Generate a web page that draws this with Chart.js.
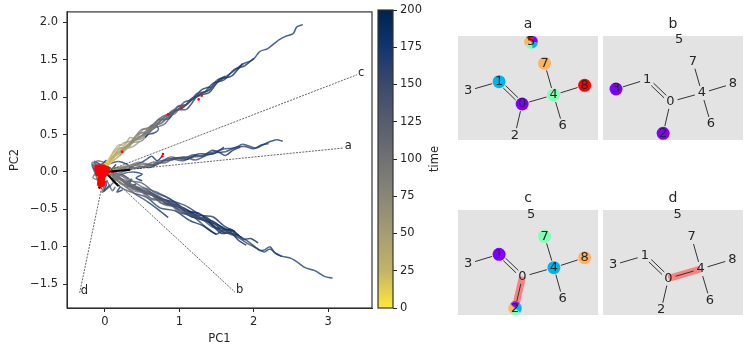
<!DOCTYPE html>
<html><head><meta charset="utf-8">
<script src="https://cdn.jsdelivr.net/npm/chart.js@4"></script>
<style>html,body{margin:0;background:#fff;overflow:hidden}canvas{position:absolute}</style>
</head><body>
<canvas id="main" width="375" height="356" style="left:0;top:0"></canvas>
<canvas id="bar" width="75" height="356" style="left:375px;top:0"></canvas>
<canvas id="ma" width="140" height="124" style="left:458px;top:16px"></canvas>
<canvas id="mb" width="140" height="124" style="left:603px;top:16px"></canvas>
<canvas id="mc" width="140" height="125" style="left:458px;top:190px"></canvas>
<canvas id="md" width="140" height="125" style="left:603px;top:190px"></canvas>
<script>
// ---- axis ticks
const xTicks=[0,1,2,3];
const yTicks=[-1.5,-1,-0.5,0,0.5,1,1.5,2];
const timeTicks=[0,25,50,75,100,125,150,175,200];
// ---- cividis (reversed) colour map stops: time -> colour
const cmapTimes=[0,25,50,75,100,125,150,175,200];
const cmapColors=['#fee838','#c3b369','#a59c74','#8a8678','#707173','#575d6d','#3b496c','#123570','#00224e'];
// ---- trajectories: upper branch
const up1x=[-.03,.07,.20,.34,.51,.70,.85,1.01,1.14,1.28,1.41,1.48,1.59,1.72,1.85,1.99,2.08,2.19,2.33,2.42,2.53,2.58,2.66];
const up1y=[.08,.17,.28,.39,.48,.64,.77,.85,.94,1.04,1.10,1.17,1.25,1.34,1.44,1.50,1.61,1.65,1.76,1.81,1.85,1.94,1.97];
const up1t=[10,30,50,70,90,110,125,140,150,155,160,163,165,167,169,170,171,172,173,174,175,176,177];
const up2x=[-.02,.1,.22,.36,.5,.64,.78,.92,1.06,1.2,1.34,1.46,1.6,1.74,1.88,2.0];
const up2y=[.06,.2,.27,.41,.45,.6,.67,.8,.87,1.0,1.07,1.19,1.23,1.37,1.42,1.52];
const up2t=[20,35,50,70,85,100,115,130,145,160,170,178,184,190,195,200];
const up3x=[-.05,.06,.18,.3,.44,.58,.72,.84,.98,1.1,1.24,1.38,1.5,1.62];
const up3y=[.04,.13,.3,.35,.5,.55,.68,.72,.88,.9,1.05,1.08,1.22,1.28];
const up3t=[15,30,45,60,75,92,105,118,130,145,160,175,190,200];
const up4x=[0,.12,.26,.4,.52,.66,.8,.94,1.06,1.18,1.3,1.42];
const up4y=[.05,.22,.3,.43,.5,.58,.74,.78,.93,.97,1.1,1.14];
const up4t=[25,40,58,75,95,115,130,148,165,178,190,200];
const up5x=[-.02,.1,.2,.32,.46,.6,.72,.86,.98,1.1];
const up5y=[.07,.16,.32,.33,.52,.53,.7,.71,.87,.9];
const up5t=[20,40,55,75,95,120,140,165,185,200];
const up6x=[0,.14,.28,.42,.52,.6,.68,.72,.66,.58,.54];
const up6y=[.06,.24,.33,.44,.5,.58,.62,.57,.52,.5,.46];
const up6t=[30,50,70,90,110,130,150,165,178,190,200];
const up7x=[.02,.12,.24,.36,.48,.6,.74,.86,.96];
const up7y=[.1,.26,.38,.42,.56,.6,.72,.78,.83];
const up7t=[30,45,60,80,100,120,135,150,165];
const up8x=[-.04,.08,.2,.34,.48,.62,.76,.9,1.04,1.16,1.28];
const up8y=[.02,.18,.24,.38,.47,.62,.65,.82,.85,.98,1.02];
const up8t=[10,28,42,62,80,100,118,135,160,180,200];
const up9x=[.05,.2,.35,.5,.65,.8,.95,1.1,1.25,1.4,1.55,1.7,1.85];
const up9y=[.1,.22,.38,.42,.58,.64,.82,.84,1.02,1.06,1.24,1.28,1.45];
const up9t=[30,50,75,95,120,140,155,168,178,185,190,196,200];
const up10x=[.02,.1,.18,.26,.34,.42,.5,.6];
const up10y=[.12,.25,.36,.36,.46,.44,.56,.58];
const up10t=[20,30,40,50,60,70,85,100];
const up11x=[.03,.12,.2,.3,.38,.46];
const up11y=[.08,.16,.22,.31,.34,.4];
const up11t=[15,25,35,50,60,75];
// ---- trajectories: right branch
const rt1x=[.07,.24,.43,.60,.74,.87,.97,1.14,1.28,1.38,1.51,1.61,1.75,1.85,1.98,2.04,2.18,2.31,2.39];
const rt1y=[.01,.04,.05,.09,.12,.17,.19,.20,.21,.25,.28,.31,.32,.37,.33,.32,.39,.43,.41];
const rt1t=[60,85,105,120,130,138,145,150,155,160,163,165,167,169,171,172,174,176,178];
const rt2x=[.05,.22,.4,.58,.74,.9,1.06,1.22,1.36,1.5,1.62,1.76,1.88,2.0,2.1,2.2];
const rt2y=[.02,.07,.09,.07,.15,.16,.2,.16,.22,.26,.27,.33,.34,.31,.36,.38];
const rt2t=[55,80,100,115,130,140,150,160,165,168,170,172,174,176,178,180];
const rt3x=[.04,.2,.38,.56,.72,.88,1.04,1.18,1.32,1.44,1.54,1.62,1.72,1.82];
const rt3y=[0,.03,.1,.1,.11,.2,.17,.23,.21,.29,.26,.22,.29,.33];
const rt3t=[70,85,100,115,128,138,148,158,165,175,182,188,194,200];
const rt4x=[.03,.15,.3,.42,.5,.56,.63,.7,.77];
const rt4y=[.02,.06,.04,.1,.13,.17,.21,.15,.21];
const rt4t=[80,110,140,155,165,175,185,192,200];
const rt5x=[.05,.18,.32,.48,.64,.8,.96,1.1,1.24];
const rt5y=[-.01,.05,.07,.05,.13,.12,.19,.17,.23];
const rt5t=[65,85,105,120,135,150,165,185,200];
const rt6x=[.02,.15,.3,.45,.6,.72];
const rt6y=[0,-.02,.02,.07,.06,.11];
const rt6t=[80,110,135,155,180,200];
const rt7x=[.05,.25,.45,.65,.85,1.05,1.25,1.45,1.6];
const rt7y=[.03,.05,.13,.09,.18,.15,.24,.24,.33];
const rt7t=[75,95,115,130,145,160,175,190,200];
// ---- trajectories: lower branch
const dn1x=[.11,.24,.43,.65,.91,1.18,1.41,1.61,1.75,1.88,1.99,2.08,2.15,2.22,2.28,2.35,2.51,2.59,2.69,2.82,2.96,3.06];
const dn1y=[-.03,-.12,-.21,-.32,-.45,-.59,-.65,-.78,-.84,-.90,-.98,-1.05,-1.04,-1.00,-1.08,-1.12,-1.16,-1.21,-1.28,-1.32,-1.40,-1.42];
const dn1t=[90,105,120,130,138,145,150,155,158,160,162,164,166,168,170,171,172,173,174,175,176,177];
const dn2x=[.08,.22,.4,.6,.82,1.02,1.22,1.42,1.6,1.78,1.94,2.04,2.14,2.22,2.3,2.38];
const dn2y=[-.02,-.16,-.18,-.36,-.39,-.55,-.57,-.72,-.8,-.87,-.97,-1.02,-1.07,-1.03,-1.09,-1.13];
const dn2t=[85,100,115,128,140,150,155,160,163,165,167,169,171,172,174,176];
const dn3x=[.06,.2,.36,.56,.76,.96,1.16,1.36,1.54,1.7,1.86,1.96,2.06];
const dn3y=[-.03,-.09,-.22,-.25,-.42,-.44,-.6,-.62,-.78,-.77,-.9,-.89,-.95];
const dn3t=[90,110,130,145,155,165,170,175,180,185,190,195,200];
const dn4x=[.1,.26,.44,.62,.82,1.02,1.2,1.4,1.56,1.7,1.8,1.9];
const dn4y=[-.06,-.17,-.2,-.35,-.38,-.53,-.61,-.68,-.82,-.82,-.92,-.98];
const dn4t=[100,120,135,150,160,170,178,184,188,192,196,200];
const dn5x=[.05,.2,.4,.62,.84,1.06,1.3,1.4,1.5,1.56,1.62];
const dn5y=[-.04,-.1,-.24,-.3,-.43,-.5,-.69,-.78,-.83,-.8,-.82];
const dn5t=[80,100,120,135,148,160,172,180,188,194,200];
const dn6x=[.1,.24,.4,.56,.7,.85];
const dn6y=[-.08,-.17,-.29,-.39,-.49,-.61];
const dn6t=[100,125,150,170,188,200];
const dn7x=[.12,.3,.5,.7,.9,1.1,1.3,1.45,1.6,1.75];
const dn7y=[-.02,-.08,-.2,-.27,-.38,-.46,-.58,-.6,-.72,-.8];
const dn7t=[90,110,130,150,162,172,180,187,194,200];
const dn8x=[.08,.2,.34,.5,.66,.86,1.06,1.26];
const dn8y=[-.01,-.04,-.12,-.15,-.27,-.35,-.5,-.56];
const dn8t=[80,100,120,140,155,170,185,200];
const dn9x=[.06,.2,.38,.56,.74,.94,1.14,1.32,1.5];
const dn9y=[-.05,-.2,-.28,-.34,-.48,-.52,-.65,-.72,-.84];
const dn9t=[100,125,145,160,170,178,186,194,200];
const dn10x=[.1,.3,.5,.7,.9,1.1,1.3,1.5,1.7];
const dn10y=[-.05,-.14,-.27,-.31,-.43,-.5,-.63,-.7,-.8];
const dn10t=[90,110,125,138,150,165,178,190,200];
const dn11x=[.08,.25,.45,.65,.85,1.05,1.25,1.45,1.65,1.8];
const dn11y=[-.04,-.13,-.24,-.29,-.44,-.48,-.62,-.66,-.8,-.85];
const dn11t=[100,125,145,160,170,178,185,190,196,200];
const dn12x=[.15,.35,.55,.75,.95,1.15,1.35,1.55];
const dn12y=[-.03,-.19,-.23,-.36,-.41,-.56,-.6,-.76];
const dn12t=[110,135,155,170,180,188,195,200];
const dn13x=[.1,.28,.48,.68,.88,1.08,1.28,1.48,1.68,1.84];
const dn13y=[-.07,-.11,-.26,-.33,-.4,-.52,-.56,-.74,-.78,-.88];
const dn13t=[95,120,140,155,168,176,184,190,196,200];
const dn14x=[.2,.4,.6,.8,1.0,1.2,1.4];
const dn14y=[-.15,-.26,-.28,-.44,-.46,-.6,-.64];
const dn14t=[85,100,115,125,135,145,150];
// ---- trajectories: around the origin
const cn1x=[0,-.1,-.17,-.16,-.08,0,.08,.15];
const cn1y=[.02,.08,.13,.05,-.02,.1,.04,.1];
const cn1t=[100,120,135,150,165,178,190,200];
const cn2x=[.02,-.08,-.16,-.13,-.06,.02,.1,.14];
const cn2y=[-.03,-.1,-.08,-.03,-.2,-.12,-.25,-.2];
const cn2t=[90,100,110,118,125,135,145,150];
const cn3x=[.05,.15,.25,.38,.5,.42,.5];
const cn3y=[-.02,-.07,-.02,0,-.03,-.08,-.12];
const cn3t=[110,135,155,172,185,195,200];
const cn4x=[-.04,-.02,.03,-.04,.06,.12,.2,.16,.24];
const cn4y=[-.05,-.18,-.12,-.27,-.2,-.14,-.2,-.27,-.24];
const cn4t=[95,110,120,130,145,160,172,185,200];
const cn5x=[-.05,-.12,-.1,-.02,.06,.18,.3,.34];
const cn5y=[.06,.12,.15,.13,.11,.14,.1,.06];
const cn5t=[90,110,125,138,152,170,190,200];
const cn6x=[0,.06,.1,.16,.1,.22,.32];
const cn6y=[0,.06,.03,.01,-.05,-.03,-.09];
const cn6t=[100,120,138,152,170,185,200];
const cn7x=[-.02,-.12,-.16,-.1,-.14,-.05,.02];
const cn7y=[-.02,-.04,.1,.02,.14,.1,.16];
const cn7t=[110,135,150,165,180,190,200];
const cn8x=[0,-.03,-.1,-.06,.02,-.02,.06];
const cn8y=[-.05,-.12,-.18,-.1,-.16,-.26,-.18];
const cn8t=[100,122,140,160,175,190,200];
const cn9x=[.05,.14,.1,.2,.28,.36,.3,.42];
const cn9y=[-.05,-.02,-.12,-.08,-.14,-.1,-.2,-.16];
const cn9t=[115,130,150,165,175,185,195,200];
// ---- annotations
const labelNames=['a','b','c','d'];
const labelX=[3.21,1.75,3.39,-.34];
const labelY=[.32,-1.61,1.30,-1.62];
const arrowX=[.34,.18,.02,-.08];
const arrowY=[.03,-.19,.01,-.22];
const blobX=[-.09,-.03,.01,-.08,-.03,-.05,-.05,-.07,.0];
const blobY=[.05,.05,.03,-.01,-.03,-.09,-.15,.01,.0];
const strayX=[.23,.78,.77,.85,1.03,1.30,1.26,-.07,.11];
const strayY=[.27,.24,.21,.77,.86,1.02,.97,-.21,0];
// ---- molecule panels
const atomNames=['0','1','2','3','4','5','6','7','8'];
const bondFrom=[0,0,0,1,4,4,4];
const bondTo=[1,2,4,3,6,7,8];
const P='#8000ff',B='#00b5eb',G='#80ffb4',O='#ffb360',R='#ff0000';
const molAX=[192,123,170,30,286,219,313,259,379], molAY=[204,137,298,164,177,18,269,82,148];
const molBX=[202,132,180,39,296,228,323,269,389], molBY=[197,130,292,159,171,12,264,77,143];
const molCX=[193,123,171,30,287,219,313,259,379], molCY=[200,133,295,161,173,15,266,79,143];
const molDX=[196,125,174,30,292,223,320,265,387], molDY=[205,137,300,165,177,15,271,81,148];
const molAColors=[P,B,null,null,G,[R,P,B,G,O],null,O,R];
const molBColors=[null,null,P,P,null,null,null,null,null];
const molCColors=[null,P,[P,B,G,O],null,B,null,null,G,O];
const molDColors=[null,null,null,null,null,null,null,null,null];

const FONT='"DejaVu Sans"';
const INK='#262626';
Chart.defaults.font.family=FONT;
Chart.defaults.animation=false;

function hex(c){return [1,3,5].map(i=>parseInt(c.substr(i,2),16));}
function cmap(t){
  let i=Math.min(Math.floor(t/25),cmapTimes.length-2);
  const f=(t-cmapTimes[i])/(cmapTimes[i+1]-cmapTimes[i]);
  const a=hex(cmapColors[i]),b=hex(cmapColors[i+1]);
  const m=a.map((v,k)=>Math.round(v+(b[k]-v)*f));
  return `rgba(${m[0]},${m[1]},${m[2]},0.78)`;
}
function pts(xs,ys){return xs.map((x,i)=>({x,y:ys[i]}));}
function trajDataset(xs,ys,ts){
  return {data:pts(xs,ys),showLine:true,pointRadius:0,borderWidth:1.5,tension:.3,fill:false,
    borderColor:cmap(ts[ts.length-1]),
    segment:{borderColor:c=>cmap(ts[c.p0DataIndex])}};
}
const trajectories=[
 [dn1x,dn1y,dn1t],[up1x,up1y,up1t],[rt1x,rt1y,rt1t],
 [dn14x,dn14y,dn14t],[up10x,up10y,up10t],[up11x,up11y,up11t],
 [up2x,up2y,up2t],[up3x,up3y,up3t],[up4x,up4y,up4t],[up5x,up5y,up5t],[up6x,up6y,up6t],[up7x,up7y,up7t],[up8x,up8y,up8t],[up9x,up9y,up9t],
 [rt2x,rt2y,rt2t],[rt3x,rt3y,rt3t],[rt4x,rt4y,rt4t],[rt5x,rt5y,rt5t],[rt6x,rt6y,rt6t],[rt7x,rt7y,rt7t],
 [dn2x,dn2y,dn2t],[dn3x,dn3y,dn3t],[dn4x,dn4y,dn4t],[dn5x,dn5y,dn5t],[dn6x,dn6y,dn6t],[dn7x,dn7y,dn7t],[dn8x,dn8y,dn8t],[dn9x,dn9y,dn9t],[dn10x,dn10y,dn10t],[dn11x,dn11y,dn11t],[dn12x,dn12y,dn12t],[dn13x,dn13y,dn13t],
 [cn1x,cn1y,cn1t],[cn2x,cn2y,cn2t],[cn3x,cn3y,cn3t],[cn4x,cn4y,cn4t],[cn5x,cn5y,cn5t],[cn6x,cn6y,cn6t],[cn7x,cn7y,cn7t],[cn8x,cn8y,cn8t],[cn9x,cn9y,cn9t]
];
const frame={id:'frame',afterDraw(ch){
  const a=ch.chartArea,c=ch.ctx;c.save();c.strokeStyle='#333';c.lineWidth=1.2;
  c.strokeRect(a.left,a.top,a.width,a.height);c.restore();}};
const fmt=v=>{const s=Math.abs(v).toFixed(1);return (v<0?'\u2212':'')+s;};
const setTicks=arr=>s=>{s.ticks=arr.map(v=>({value:v}));};

// ---- main PCA chart
const dsMain=[];
dsMain.push({data:pts(blobX,blobY),pointRadius:4,pointBackgroundColor:'#ff0000',pointBorderWidth:0,showLine:false});
arrowX.forEach((x,i)=>dsMain.push({data:[{x:0,y:0},{x,y:arrowY[i]}],showLine:true,borderColor:'#000',borderWidth:2,pointRadius:0}));
dsMain.push({data:pts(strayX,strayY),pointRadius:1.3,pointBackgroundColor:'#ff0000',pointBorderWidth:0,showLine:false});
labelX.forEach((x,i)=>dsMain.push({data:[{x:0,y:0},{x,y:labelY[i]}],showLine:true,borderColor:'#222',borderWidth:.7,borderDash:[2,1.2],pointRadius:0}));
trajectories.forEach(t=>dsMain.push(trajDataset(t[0],t[1],t[2])));
new Chart(document.getElementById('main'),{type:'scatter',data:{datasets:dsMain},
 options:{responsive:false,layout:{autoPadding:false,padding:{top:10,right:3}},
  plugins:{legend:{display:false},tooltip:{enabled:false}},
  scales:{
   x:{type:'linear',min:-.51,max:3.59,afterBuildTicks:setTicks(xTicks),afterFit:s=>{s.height=48;},
      grid:{drawOnChartArea:false,tickLength:4,tickColor:INK},border:{color:INK},
      ticks:{color:INK,font:{size:11.5},padding:3,maxRotation:0,callback:v=>String(v)},
      title:{display:true,text:'PC1',color:INK,font:{size:11.5},padding:{top:0,bottom:10}}},
   y:{type:'linear',min:-1.82,max:2.14,afterBuildTicks:setTicks(yTicks),afterFit:s=>{s.width=67;},
      grid:{drawOnChartArea:false,tickLength:4,tickColor:INK},border:{color:INK},
      ticks:{color:INK,font:{size:11.5},padding:5,callback:fmt},
      title:{display:true,text:'PC2',color:INK,font:{size:11.5},padding:{top:8,bottom:0}}}
  }},
 plugins:[frame,{id:'labels',afterDatasetsDraw(ch){
   const c=ch.ctx;c.save();c.fillStyle=INK;c.font='11.5px '+FONT;c.textAlign='left';c.textBaseline='alphabetic';
   labelNames.forEach((n,i)=>c.fillText(n,ch.scales.x.getPixelForValue(labelX[i])+1,ch.scales.y.getPixelForValue(labelY[i])+1));
   c.restore();}}]
});

// ---- colour bar
new Chart(document.getElementById('bar'),{type:'bar',
 data:{labels:['time'],datasets:[{data:[[0,200]],barPercentage:1,categoryPercentage:1,borderWidth:0,
   backgroundColor(ctx){
     const ch=ctx.chart,s=ch.scales.y;
     if(!s||!ch.chartArea) return cmapColors[4];
     const g=ch.ctx.createLinearGradient(0,s.getPixelForValue(0),0,s.getPixelForValue(200));
     cmapTimes.forEach((t,i)=>g.addColorStop(t/200,cmapColors[i]));
     return g;}}]},
 options:{responsive:false,layout:{autoPadding:false,padding:{top:10,bottom:48,left:3}},
  plugins:{legend:{display:false},tooltip:{enabled:false}},
  scales:{x:{display:false},
   y:{position:'right',min:0,max:200,afterBuildTicks:setTicks(timeTicks),afterFit:s=>{s.width=57;},
      grid:{drawOnChartArea:false,tickLength:4,tickColor:INK},border:{display:false},
      ticks:{color:INK,font:{size:11.5},padding:3}}}},
 plugins:[frame,{id:'timeTitle',afterDraw(ch){
   const c=ch.ctx;c.save();c.translate(60,159);c.rotate(-Math.PI/2);c.fillStyle=INK;c.font='11.5px '+FONT;
   c.textAlign='center';c.textBaseline='middle';c.fillText('time',0,0);c.restore();}}]
});

// ---- molecule panels
function pieIcon(cols){
  const cv=document.createElement('canvas');cv.width=cv.height=14;const c=cv.getContext('2d');
  const n=cols.length;
  cols.forEach((col,i)=>{const a0=-2.4+i*2*Math.PI/n,a1=a0+2*Math.PI/n;
    c.beginPath();c.moveTo(7,7);c.arc(7,7,6.7,a0,a1);c.closePath();c.fillStyle=col;c.fill();});
  return cv;
}
function molecule(id,title,xs,ys,cols,hi,h){
  const seq=[];
  bondFrom.forEach((f,i)=>{
    const t=bondTo[i],dx=xs[t]-xs[f],dy=ys[t]-ys[f],L=Math.hypot(dx,dy),ux=dx/L,uy=dy/L,tr=22;
    const a={x:xs[f]+ux*tr,y:ys[f]+uy*tr},b={x:xs[t]-ux*tr,y:ys[t]-uy*tr};
    if(f===0&&t===1){
      const ox=-uy*5,oy=ux*5;
      seq.push({x:a.x+ox,y:a.y+oy},{x:b.x+ox,y:b.y+oy},{x:NaN,y:NaN},{x:a.x-ox,y:a.y-oy},{x:b.x-ox,y:b.y-oy},{x:NaN,y:NaN});
    } else seq.push(a,b,{x:NaN,y:NaN});
  });
  const idx=cols.map((c,i)=>c?i:-1).filter(i=>i>=0);
  const datasets=[{data:seq,showLine:true,spanGaps:false,borderColor:'#333',borderWidth:1,pointRadius:0}];
  if(idx.length) datasets.push({data:idx.map(i=>({x:xs[i],y:ys[i]})),showLine:false,pointRadius:6.5,pointBorderWidth:0,
     pointBackgroundColor:idx.map(i=>Array.isArray(cols[i])?'#888':cols[i]),
     pointStyle:idx.map(i=>Array.isArray(cols[i])?pieIcon(cols[i]):'circle')});
  if(hi) datasets.push({data:[{x:xs[hi[0]],y:ys[hi[0]]},{x:xs[hi[1]],y:ys[hi[1]]}],showLine:true,
     borderColor:'rgba(255,110,110,.85)',borderWidth:7,pointRadius:0,borderCapStyle:'butt'});
  new Chart(document.getElementById(id),{type:'scatter',data:{datasets},
   options:{responsive:false,layout:{autoPadding:false,padding:0},
    plugins:{legend:{display:false},tooltip:{enabled:false},
      title:{display:true,text:title,color:INK,font:{size:14,weight:'normal',lineHeight:1},padding:{top:1,bottom:5}}},
    scales:{x:{display:false,min:0,max:419},y:{display:false,reverse:true,min:0,max:h}}},
   plugins:[{id:'bg',beforeDatasetsDraw(ch){const a=ch.chartArea,c=ch.ctx;c.save();c.fillStyle='#e3e3e3';c.fillRect(a.left,a.top,a.width,a.height);c.restore();}},
    {id:'atoms',afterDatasetsDraw(ch){const c=ch.ctx;c.save();c.fillStyle=INK;c.font='13px '+FONT;c.textAlign='center';c.textBaseline='middle';
      atomNames.forEach((n,i)=>c.fillText(n,ch.scales.x.getPixelForValue(xs[i]),ch.scales.y.getPixelForValue(ys[i])));c.restore();}}]
  });
}
molecule('ma','a',molAX,molAY,molAColors,null,312);
molecule('mb','b',molBX,molBY,molBColors,null,312);
molecule('mc','c',molCX,molCY,molCColors,[0,2],315);
molecule('md','d',molDX,molDY,molDColors,[0,4],315);
</script>
</body></html>
